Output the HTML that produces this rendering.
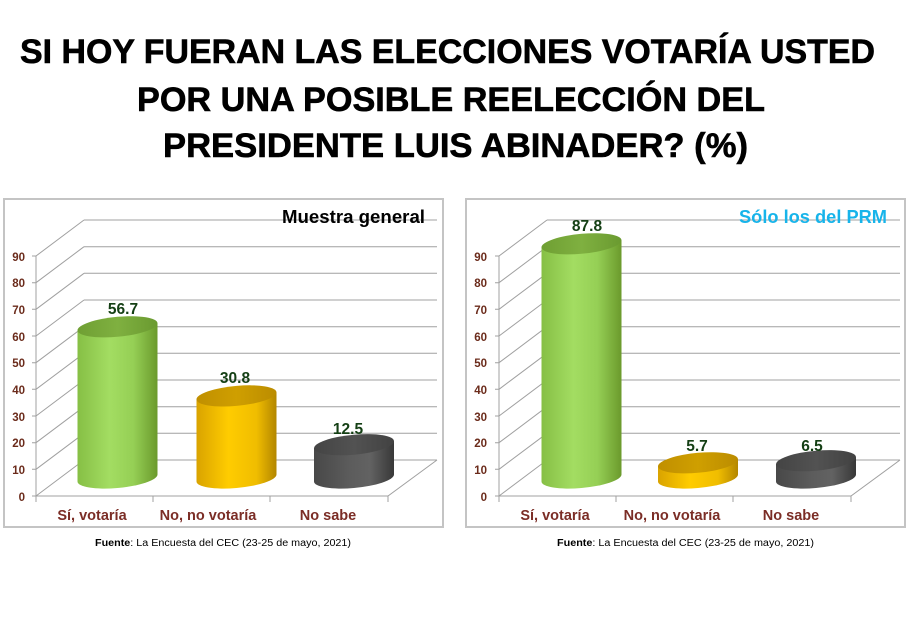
<!DOCTYPE html>
<html><head><meta charset="utf-8">
<style>
html,body{margin:0;padding:0;background:#fff;}
svg{display:block;}
text{font-family:"Liberation Sans",Arial,sans-serif;}
</style></head>
<body>
<svg width="911" height="639" viewBox="0 0 911 639" xmlns="http://www.w3.org/2000/svg">
<defs>
<linearGradient id="gG" x1="0" x2="1" y1="0" y2="0">
<stop offset="0" stop-color="#86bf45"/><stop offset="0.4" stop-color="#a3dd62"/><stop offset="0.7" stop-color="#95cf55"/><stop offset="1" stop-color="#6b9a2c"/>
</linearGradient>
<linearGradient id="gGt" x1="0" x2="1" y1="0" y2="0">
<stop offset="0" stop-color="#6f9f33"/><stop offset="0.5" stop-color="#7fb040"/><stop offset="1" stop-color="#6a9a30"/>
</linearGradient>
<linearGradient id="gY" x1="0" x2="1" y1="0" y2="0">
<stop offset="0" stop-color="#d9a300"/><stop offset="0.4" stop-color="#ffcc00"/><stop offset="0.75" stop-color="#f0bd00"/><stop offset="1" stop-color="#b38600"/>
</linearGradient>
<linearGradient id="gYt" x1="0" x2="1" y1="0" y2="0">
<stop offset="0" stop-color="#c08f00"/><stop offset="0.5" stop-color="#cf9f00"/><stop offset="1" stop-color="#bb8c00"/>
</linearGradient>
<linearGradient id="gK" x1="0" x2="1" y1="0" y2="0">
<stop offset="0" stop-color="#484848"/><stop offset="0.45" stop-color="#5c5c5c"/><stop offset="0.7" stop-color="#626262"/><stop offset="1" stop-color="#383838"/>
</linearGradient>
<linearGradient id="gKt" x1="0" x2="1" y1="0" y2="0">
<stop offset="0" stop-color="#444"/><stop offset="0.5" stop-color="#525252"/><stop offset="1" stop-color="#424242"/>
</linearGradient>
</defs>

<!-- Title -->
<g font-weight="bold" font-size="34" fill="#000" stroke="#000" stroke-width="0.6" text-anchor="start">
<text x="20" y="63" textLength="855" lengthAdjust="spacingAndGlyphs">SI HOY FUERAN LAS ELECCIONES VOTARÍA USTED</text>
<text x="137" y="111" textLength="628" lengthAdjust="spacingAndGlyphs">POR UNA POSIBLE REELECCIÓN DEL</text>
<text x="163" y="157" textLength="585" lengthAdjust="spacingAndGlyphs">PRESIDENTE LUIS ABINADER? (%)</text>
</g>

<!-- Panels -->
<rect x="4" y="199" width="439" height="328" fill="#fff" stroke="#c4c4c4" stroke-width="2"/>
<rect x="466" y="199" width="439" height="328" fill="#fff" stroke="#c4c4c4" stroke-width="2"/>

<!-- LEFT CHART grid -->
<g stroke="#a0a0a0" stroke-width="1" fill="none">
<path d="M84 460H437M84 433.3H437M84 406.7H437M84 380H437M84 353.3H437M84 326.7H437M84 300H437M84 273.3H437M84 246.7H437M84 220H437"/>
<path d="M36 496L84 460M36 469.3L84 433.3M36 442.7L84 406.7M36 416L84 380M36 389.3L84 353.3M36 362.7L84 326.7M36 336L84 300M36 309.3L84 273.3M36 282.7L84 246.7M36 256L84 220"/>
<path d="M36 496H388L437 460"/>
<path d="M36 256V496"/>
<path d="M32 496H36M32 469.3H36M32 442.7H36M32 416H36M32 389.3H36M32 362.7H36M32 336H36M32 309.3H36M32 282.7H36M32 256H36"/>
<path d="M36 496V502M153 496V502M270 496V502M388 496V502"/>
</g>
<!-- RIGHT CHART grid -->
<g stroke="#a0a0a0" stroke-width="1" fill="none" transform="translate(463,0)">
<path d="M84 460H437M84 433.3H437M84 406.7H437M84 380H437M84 353.3H437M84 326.7H437M84 300H437M84 273.3H437M84 246.7H437M84 220H437"/>
<path d="M36 496L84 460M36 469.3L84 433.3M36 442.7L84 406.7M36 416L84 380M36 389.3L84 353.3M36 362.7L84 326.7M36 336L84 300M36 309.3L84 273.3M36 282.7L84 246.7M36 256L84 220"/>
<path d="M36 496H388L437 460"/>
<path d="M36 256V496"/>
<path d="M32 496H36M32 469.3H36M32 442.7H36M32 416H36M32 389.3H36M32 362.7H36M32 336H36M32 309.3H36M32 282.7H36M32 256H36"/>
<path d="M36 496V502M153 496V502M270 496V502M388 496V502"/>
</g>

<!-- Y labels -->
<g font-weight="bold" font-size="11.5" fill="#6b2b1b" text-anchor="end">
<text x="25" y="501">0</text><text x="25" y="474">10</text><text x="25" y="447">20</text><text x="25" y="421">30</text><text x="25" y="394">40</text><text x="25" y="367">50</text><text x="25" y="341">60</text><text x="25" y="314">70</text><text x="25" y="287">80</text><text x="25" y="261">90</text>
</g>
<g font-weight="bold" font-size="11.5" fill="#6b2b1b" text-anchor="end" transform="translate(462,0)">
<text x="25" y="501">0</text><text x="25" y="474">10</text><text x="25" y="447">20</text><text x="25" y="421">30</text><text x="25" y="394">40</text><text x="25" y="367">50</text><text x="25" y="341">60</text><text x="25" y="314">70</text><text x="25" y="287">80</text><text x="25" y="261">90</text>
</g>

<!-- Bars LEFT -->
<g transform="translate(117.5,0) skewY(-5)">
<path d="M-40 326.8V478A40 10 0 0 0 40 478V326.8Z" fill="url(#gG)"/>
<ellipse cx="0" cy="326.8" rx="40" ry="10" fill="url(#gGt)"/>
</g>
<g transform="translate(236.5,0) skewY(-5)">
<path d="M-40 395.9V478A40 10 0 0 0 40 478V395.9Z" fill="url(#gY)"/>
<ellipse cx="0" cy="395.9" rx="40" ry="10" fill="url(#gYt)"/>
</g>
<g transform="translate(354,0) skewY(-5)">
<path d="M-40 444.7V478A40 10 0 0 0 40 478V444.7Z" fill="url(#gK)"/>
<ellipse cx="0" cy="444.7" rx="40" ry="10" fill="url(#gKt)"/>
</g>

<!-- Bars RIGHT -->
<g transform="translate(581.5,0) skewY(-5)">
<path d="M-40 243.8V478A40 10 0 0 0 40 478V243.8Z" fill="url(#gG)"/>
<ellipse cx="0" cy="243.8" rx="40" ry="10" fill="url(#gGt)"/>
</g>
<g transform="translate(698,0) skewY(-5)">
<path d="M-40 462.8V478A40 10 0 0 0 40 478V462.8Z" fill="url(#gY)"/>
<ellipse cx="0" cy="462.8" rx="40" ry="10" fill="url(#gYt)"/>
</g>
<g transform="translate(816,0) skewY(-5)">
<path d="M-40 460.7V478A40 10 0 0 0 40 478V460.7Z" fill="url(#gK)"/>
<ellipse cx="0" cy="460.7" rx="40" ry="10" fill="url(#gKt)"/>
</g>

<!-- Value labels -->
<g font-weight="bold" font-size="15.5" fill="#143f14" text-anchor="middle">
<text x="123" y="314">56.7</text>
<text x="235" y="383">30.8</text>
<text x="348" y="434">12.5</text>
<text x="587" y="231">87.8</text>
<text x="697" y="451">5.7</text>
<text x="812" y="451">6.5</text>
</g>

<!-- Category labels -->
<g font-weight="bold" font-size="14.5" fill="#7b2d26" text-anchor="middle">
<text x="92" y="520">Sí, votaría</text>
<text x="208" y="520">No, no votaría</text>
<text x="328" y="520">No sabe</text>
<text x="555" y="520">Sí, votaría</text>
<text x="672" y="520">No, no votaría</text>
<text x="791" y="520">No sabe</text>
</g>

<!-- Chart titles -->
<text x="282" y="223" font-weight="bold" font-size="18" fill="#000" textLength="143" lengthAdjust="spacingAndGlyphs">Muestra general</text>
<text x="739" y="223" font-weight="bold" font-size="18" fill="#17b4ea" textLength="148" lengthAdjust="spacingAndGlyphs">Sólo los del PRM</text>

<!-- Sources -->
<text x="95" y="546" font-size="10" fill="#000" textLength="256" lengthAdjust="spacingAndGlyphs"><tspan font-weight="bold">Fuente</tspan>: La Encuesta del CEC (23-25 de mayo, 2021)</text>
<text x="557" y="546" font-size="10" fill="#000" textLength="257" lengthAdjust="spacingAndGlyphs"><tspan font-weight="bold">Fuente</tspan>: La Encuesta del CEC (23-25 de mayo, 2021)</text>
</svg>
</body></html>
